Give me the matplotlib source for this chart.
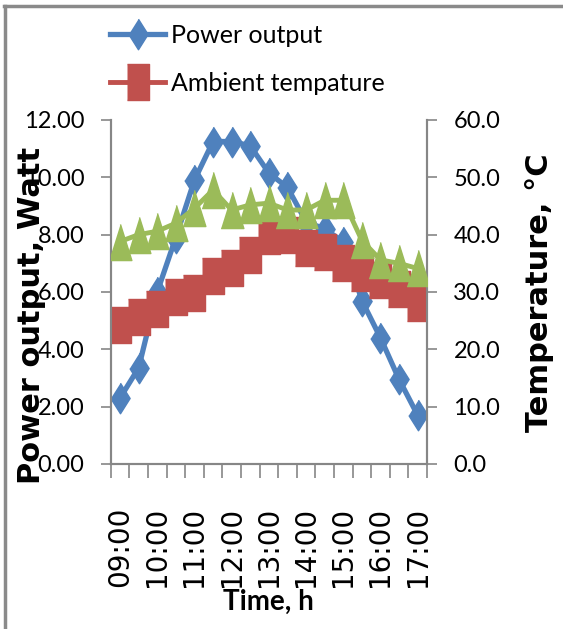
import matplotlib
matplotlib.use("Agg")
import matplotlib.pyplot as plt
from matplotlib.lines import Line2D
import numpy as np

# ---- data ----
times = ["09:00", "09:30", "10:00", "10:30", "11:00", "11:30", "12:00", "12:30",
         "13:00", "13:30", "14:00", "14:30", "15:00", "15:30", "16:00", "16:30", "17:00"]
power_output = [2.3, 3.35, 6.0, 7.9, 9.9, 11.25, 11.25, 11.1, 10.15, 9.65,
                8.45, 8.2, 7.75, 5.7, 4.4, 2.95, 1.7]
ambient_temp = [24.2, 25.7, 27.0, 29.2, 29.9, 32.8, 34.2, 36.5, 39.7, 40.0,
                37.6, 37.0, 35.1, 33.3, 32.1, 30.6, 28.0]
panel_temp = [38.8, 40.0, 40.6, 42.0, 44.6, 47.8, 44.3, 45.2, 45.5, 44.3,
              44.3, 46.0, 46.0, 39.0, 35.6, 35.0, 34.1]
left_ticks = [0, 2, 4, 6, 8, 10, 12]
right_ticks = [0, 10, 20, 30, 40, 50, 60]

BLUE = "#4F81BD"
RED = "#C0504D"
GREEN = "#9BBB59"
SPINE = "#868686"

W, H = 563, 629
fig = plt.figure(figsize=(W / 100, H / 100), dpi=100)
fig.patch.set_facecolor("white")

l, r, t, b = 110.7, 427, 120, 464
ax = fig.add_axes([l / W, 1 - b / H, (r - l) / W, (b - t) / H])
ax2 = ax.twinx()

x = np.arange(len(times))

diamond = [(0, 1), (0.63, 0), (0, -1), (-0.63, 0)]
square = [(-0.63, -1), (0.63, -1), (0.63, 1), (-0.63, 1)]
triangle = [(-0.63, -1), (0.63, -1), (0, 1)]

l1, = ax.plot(x, power_output, color=BLUE, lw=3.8, marker=diamond, ms=22,
              mec=BLUE, mfc=BLUE, label="Power output", zorder=2)
l2, = ax2.plot(x, ambient_temp, color=RED, lw=3.5, marker=square, ms=25.6,
               mec=RED, mfc=RED, label="Ambient tempature", zorder=2)
l3, = ax2.plot(x, panel_temp, color=GREEN, lw=3.5, marker=triangle, ms=26,
               mec=GREEN, mfc=GREEN, zorder=3)

ax.set_xlim(-0.5, len(times) - 0.5)
ax.set_ylim(0, 12)
ax2.set_ylim(0, 60)

ax.set_yticks(left_ticks)
ax.set_yticklabels([f"{v:.2f}" for v in left_ticks])
ax2.set_yticks(right_ticks)
ax2.set_yticklabels([f"{v:.1f}" for v in right_ticks])

ax.set_xticks(x[::2])
ax.set_xticklabels(times[::2], rotation=90, fontsize=20, family="DejaVu Sans")
ax.set_xticks(np.arange(-0.5, len(times), 1.0), minor=True)
ax.tick_params(axis="x", which="major", length=0, pad=31)
ax.tick_params(axis="x", which="minor", length=10, width=1.2, color=SPINE, direction="out")

for a in (ax, ax2):
    a.tick_params(axis="y", length=7, width=1.2, color=SPINE, direction="out",
                  pad=12, labelsize=17)
    for lab in a.get_yticklabels():
        lab.set_family("Lato")
    a.spines["top"].set_visible(False)
    for s in ("left", "right", "bottom"):
        a.spines[s].set_color(SPINE)
        a.spines[s].set_linewidth(1.5)

# axis titles
fig.text(32 / W, 1 - 315 / H, "Power output, Watt", rotation=90, ha="center",
         va="center", fontsize=22, fontweight="bold", family="DejaVu Sans")
fig.text(540 / W, 1 - 293 / H, "Temperature, °C", rotation=90, ha="center",
         va="center", fontsize=22, fontweight="bold", family="DejaVu Sans")
fig.text(268 / W, 1 - 602 / H, "Time, h", ha="center", va="center",
         fontsize=20, fontweight="bold", family="Lato")

# legend
leg = fig.legend(handles=[l1, l2], labels=["Power output", "Ambient tempature"],
                 loc="upper left", bbox_to_anchor=(110 / W, 1 - 24 / H),
                 frameon=False, handlelength=2.2, handletextpad=0.25,
                 labelspacing=1.0, prop={"family": "Lato", "size": 18},
                 borderaxespad=0, borderpad=0)

# chart border (top and left)
fig.add_artist(Line2D([4 / W, 1], [1 - 6 / H, 1 - 6 / H], transform=fig.transFigure,
                      color="#8a8a8a", lw=2.5))
fig.add_artist(Line2D([5 / W, 5 / W], [0, 1 - 6 / H], transform=fig.transFigure,
                      color="#8a8a8a", lw=2.5))

fig.savefig("out.png", dpi=100, facecolor="white")
